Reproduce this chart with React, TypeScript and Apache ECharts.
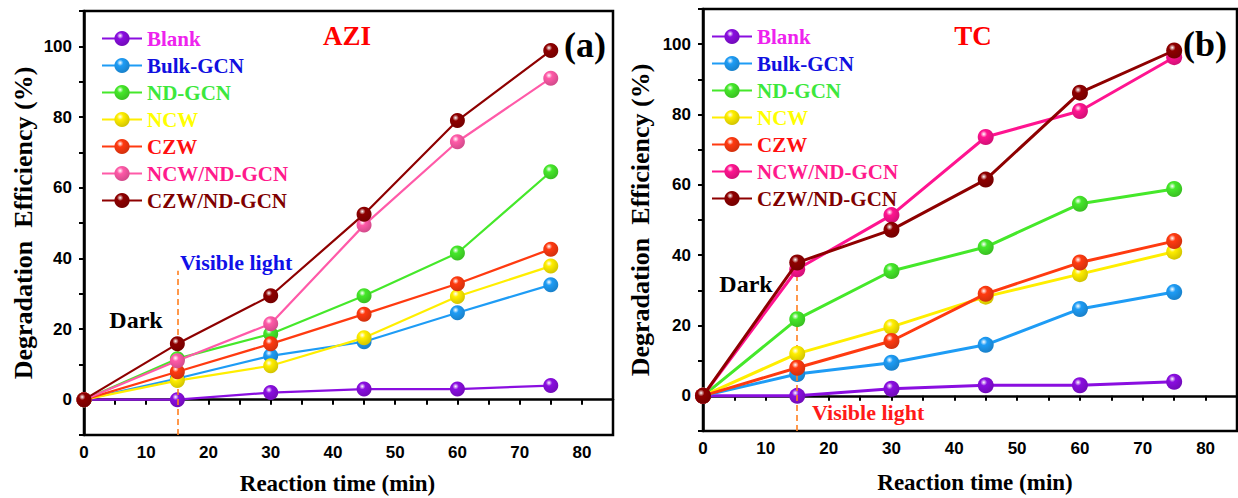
import React, { useEffect, useRef } from "react";
import * as echarts from "echarts";

const times = [0, 15, 30, 45, 60, 75];
const seriesNames = ["Blank", "Bulk-GCN", "ND-GCN", "NCW", "CZW", "NCW/ND-GCN", "CZW/ND-GCN"];

// AZI panel (a)
const aziBlank = [0, 0, 2, 3, 3, 4];
const aziBulk = [0, 6, 12.4, 16.4, 24.6, 32.5];
const aziND = [0, 11.6, 18.6, 29.4, 41.5, 64.5];
const aziNCW = [0, 5.4, 9.6, 17.5, 29.2, 37.8];
const aziCZW = [0, 7.9, 15.8, 24.2, 32.8, 42.6];
const aziNCWND = [0, 11, 21.5, 49.4, 73, 91];
const aziCZWND = [0, 15.8, 29.4, 52.5, 79, 98.8];

// TC panel (b)
const tcBlank = [0, 0, 2, 3, 3, 4];
const tcBulk = [0, 6.2, 9.4, 14.5, 24.7, 29.5];
const tcND = [0, 21.8, 35.5, 42.3, 54.6, 58.8];
const tcNCW = [0, 12, 19.6, 28.2, 34.6, 41];
const tcCZW = [0, 8, 15.6, 29, 37.9, 44];
const tcNCWND = [0, 36, 51.4, 73.6, 81, 96.3];
const tcCZWND = [0, 37.9, 47.2, 61.5, 86.2, 98.2];

const yTickLabels = [0, 20, 40, 60, 80, 100];
const xTickLabels = [0, 10, 20, 30, 40, 50, 60, 70, 80];

const lineColorsA = ["#8a0ee0", "#1e9cf5", "#45e82a", "#ffee00", "#ff3a10", "#ff5aa8", "#8e0000"];
const lineColorsB = ["#8a0ee0", "#1e9cf5", "#45e82a", "#ffee00", "#ff3a10", "#ff1490", "#8e0000"];
const textColors = ["#ee22ee", "#1010e0", "#3ce83c", "#ffff00", "#ff1010", "#ff1a8c", "#800000"];

const SERIF = "Liberation Serif";
const SANS = "Liberation Sans";

function shade(hex: string, f: number) {
  const n = parseInt(hex.slice(1), 16);
  const r = Math.round(((n >> 16) & 255) * f);
  const g = Math.round(((n >> 8) & 255) * f);
  const b = Math.round((n & 255) * f);
  return `rgb(${r},${g},${b})`;
}

function sphere(c: string) {
  return {
    type: "radial",
    x: 0.38,
    y: 0.32,
    r: 0.7,
    colorStops: [
      { offset: 0, color: "#ffffff" },
      { offset: 0.3, color: c },
      { offset: 1, color: shade(c, 0.82) },
    ],
  };
}

const ZW = "\u200b";

export default function App() {
  const ref = useRef<HTMLDivElement>(null);
  useEffect(() => {
    if (!ref.current) return;
    const chart = echarts.init(ref.current, undefined, { renderer: "svg" });
    const aziData = [aziBlank, aziBulk, aziND, aziNCW, aziCZW, aziNCWND, aziCZWND];
    const tcData = [tcBlank, tcBulk, tcND, tcNCW, tcCZW, tcNCWND, tcCZWND];

    const mkSeries = (vals: number[], i: number, panel: number) => {
      const colors = panel === 0 ? lineColorsA : lineColorsB;
      return {
        type: "line",
        name: panel === 0 ? seriesNames[i] : seriesNames[i] + ZW,
        xAxisIndex: panel,
        yAxisIndex: panel,
        data: vals.map((v, k) => [times[k], v]),
        symbol: "circle",
        symbolSize: panel === 0 ? 15 : 16,
        lineStyle: { color: colors[i], width: panel === 0 ? 2.2 : 3 },
        itemStyle: { color: sphere(colors[i]) as any },
        z: 3 + i,
      };
    };

    const dashed = (panel: number, top: number) => ({
      type: "line",
      xAxisIndex: panel,
      yAxisIndex: panel,
      data: [],
      silent: true,
      markLine: {
        silent: true,
        symbol: ["none", "none"],
        label: { show: false },
        lineStyle: { color: "#ff7f1e", type: [6, 4], width: 1.6 },
        data: [[{ coord: [15, -10] }, { coord: [15, top] }]],
      },
    });

    const xAxis = (gi: number, gap: number, pad: number[]) => ({
      type: "value",
      gridIndex: gi,
      min: 0,
      max: 85,
      interval: 5,
      name: "Reaction time (min)",
      nameLocation: "middle",
      nameGap: gap,
      nameTextStyle: { fontFamily: SERIF, fontWeight: "bold", fontSize: 23, lineHeight: 23, color: "#000", padding: pad },
      axisLine: { show: true, lineStyle: { color: "#000", width: 2.5 } },
      axisTick: { show: true, length: 5, lineStyle: { color: "#000", width: 2 } },
      splitLine: { show: false },
      axisLabel: {
        margin: 9,
        fontFamily: SANS,
        fontWeight: "bold",
        fontSize: 17,
        color: "#000",
        formatter: (v: number) => (xTickLabels.indexOf(v) >= 0 ? String(v) : ""),
      },
    });

    const yAxis = (gi: number, gap: number) => ({
      type: "value",
      gridIndex: gi,
      min: -10,
      max: 110,
      interval: 10,
      name: "Degradation  Efficiency (%)",
      nameLocation: "middle",
      nameGap: gap,
      nameTextStyle: { fontFamily: SERIF, fontWeight: "bold", fontSize: 26, color: "#000" },
      axisLine: { show: true, lineStyle: { color: "#000", width: 2.5 } },
      axisTick: { show: true, length: 5, lineStyle: { color: "#000", width: 2 } },
      splitLine: { show: false },
      axisLabel: {
        margin: 12,
        fontFamily: SANS,
        fontWeight: "bold",
        fontSize: 17,
        color: "#000",
        formatter: (v: number) => (yTickLabels.indexOf(v) >= 0 ? String(v) : ""),
      },
    });

    const legend = (panel: number, left: number, top: number) => ({
      left,
      top,
      orient: "vertical",
      itemWidth: 40,
      itemHeight: 19,
      itemGap: 6,
      selectedMode: false,
      textStyle: { fontFamily: SERIF, fontWeight: "bold", fontSize: 21, lineHeight: 20 },
      formatter: (n: string) => n.replace(/\u200b/g, ""),
      data: seriesNames.map((n, i) => ({
        name: panel === 0 ? n : n + ZW,
        textStyle: { color: textColors[i] },
      })),
    });

    const txt = (text: string, x: number, y: number, size: number, color: string, align = "center") => ({
      type: "text",
      x,
      y,
      style: {
        text,
        fill: color,
        fontFamily: SERIF,
        fontWeight: "bold",
        fontSize: size,
        textAlign: align,
        textVerticalAlign: "middle",
      },
      z: 100,
    });

    const gridBase = {
      show: true,
      borderColor: "#000",
      borderWidth: 2.5,
      backgroundColor: "transparent",
      containLabel: false,
      outerBoundsMode: "none",
    };

    chart.setOption({
      animation: false,
      backgroundColor: "#fff",
      grid: [
        { ...gridBase, left: 84, top: 11, width: 529, height: 424 },
        { ...gridBase, left: 703, top: 9, width: 534, height: 422 },
      ],
      xAxis: [xAxis(0, 37, [0, 22, 0, 0]), xAxis(1, 40, [0, 0, 0, 10])],
      yAxis: [yAxis(0, 48), yAxis(1, 50)],
      legend: [legend(0, 96, 23), legend(1, 706, 21)],
      series: [
        dashed(0, 36.5),
        dashed(1, 41),
        ...aziData.map((v, i) => mkSeries(v, i, 0)),
        ...tcData.map((v, i) => mkSeries(v, i, 1)),
      ],
      graphic: [
        txt("AZI", 347, 36, 27, "#ff0000"),
        txt("(a)", 585, 45, 36, "#000"),
        txt("Dark", 136, 320, 24, "#000"),
        txt("Visible light", 180, 262, 22, "#1010e8", "left"),
        txt("TC", 973, 36, 27, "#ff0000"),
        txt("(b)", 1205, 44, 36, "#000"),
        txt("Dark", 746, 284, 24, "#000"),
        txt("Visible light", 812, 412, 22, "#ff1a1a", "left"),
      ],
    } as any);
    return () => chart.dispose();
  }, []);
  return (
    <div
      ref={ref}
      style={{ position: "absolute", left: 0, top: 0, width: 1238, height: 498, background: "#fff" }}
    />
  );
}
